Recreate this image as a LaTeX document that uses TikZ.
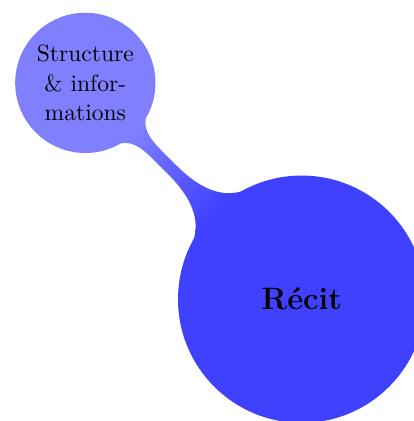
\documentclass[tikz,border=0pt,11pt]{standalone}
\usepackage{tikz}
\usetikzlibrary{mindmap}

\begin{document}
\begin{tikzpicture}[
  mindmap,
  every node/.style={concept},
  concept color=blue!75,
  root concept/.append style={font=\Large\bfseries},
  level 1 concept/.append style={font=\normalsize, text width=1.7cm},
  level 1/.append style={level distance=5cm}
]

\useasboundingbox (-4.93,-1.99) rectangle (1.83,4.89);

%% Root concept and its single branch
\node[root concept] (recit) {Récit}
  child[grow=135, concept color=blue!50] {
    node (structure) {Structure \& informations}
  };

\end{tikzpicture}
\end{document}
